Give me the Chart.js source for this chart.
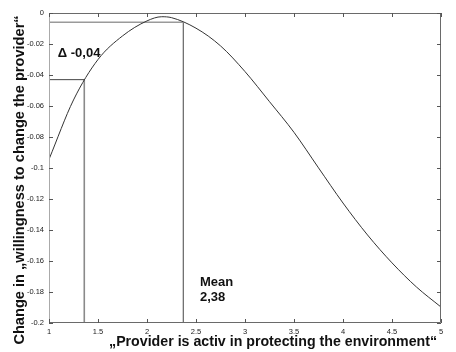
<!DOCTYPE html>
<html>
<head>
<meta charset="utf-8">
<script src="https://cdn.jsdelivr.net/npm/chart.js@4"></script>
<style>
html,body{margin:0;padding:0;background:#fff;}
#wrap{width:456px;height:352px;position:relative;}
</style>
</head>
<body>
<div id="wrap"><canvas id="c" width="456" height="352"></canvas></div>
<script>
// ---- data ----
const xValues = [1, 1.25, 1.5, 1.75, 2, 2.15, 2.25, 2.5, 2.75, 3, 3.25, 3.5, 3.75, 4, 4.25, 4.5, 4.75, 5];
const yValues = [-0.0944, -0.0561, -0.030, -0.0148, -0.0051, -0.0024, -0.003, -0.0098, -0.0212, -0.0378, -0.0572, -0.077, -0.0999, -0.1226, -0.1432, -0.1612, -0.1768, -0.1897];
const markerX = [1.36, 2.37];          // vertical reference lines
const markerY = [-0.043, -0.006];      // corresponding curve levels
const xTickValues = [1, 1.5, 2, 2.5, 3, 3.5, 4, 4.5, 5];
const xTickLabels = ['1', '1.5', '2', '2.5', '3', '3.5', '4', '4.5', '5'];
const yTickValues = [0, -0.02, -0.04, -0.06, -0.08, -0.1, -0.12, -0.14, -0.16, -0.18, -0.2];
const yTickLabels = ['0', '-0.02', '-0.04', '-0.06', '-0.08', '-0.1', '-0.12', '-0.14', '-0.16', '-0.18', '-0.2'];
const xTitle = '\u201EProvider is activ in protecting the environment\u201C';
const yTitle = 'Change in \u201Ewillingness to change the provider\u201C';
const deltaLabel = '\u0394 -0,04';
const meanLabel = ['Mean', '2,38'];

const FONT = '"Liberation Sans", Arial, sans-serif';

const curve = xValues.map((x, i) => ({x: x, y: yValues[i]}));
const yMin = yTickValues[yTickValues.length - 1];
const xMin = xTickValues[0];

const refStyles = [
  {h: '#444', hw: 1, v: '#8a8a8a', vw: 1.6},
  {h: '#9a9a9a', hw: 1.6, v: '#444', vw: 1}
];
const refSets = [];
markerX.forEach((mx, i) => {
  refSets.push({data: [{x: xMin, y: markerY[i]}, {x: mx, y: markerY[i]}], borderColor: refStyles[i].h, borderWidth: refStyles[i].hw, pointRadius: 0, tension: 0});
  refSets.push({data: [{x: mx, y: yMin}, {x: mx, y: markerY[i]}], borderColor: refStyles[i].v, borderWidth: refStyles[i].vw, pointRadius: 0, tension: 0});
});

const decor = {
  id: 'decor',
  afterDraw(chart) {
    const {ctx, chartArea: a, scales: {x, y}} = chart;
    ctx.save();
    // frame
    ctx.strokeStyle = '#6a6a6a';
    ctx.lineWidth = 1;
    ctx.beginPath();
    ctx.moveTo(a.left + 0.5, a.top + 0.5);
    ctx.lineTo(a.right - 0.5, a.top + 0.5);
    ctx.lineTo(a.right - 0.5, a.bottom - 0.5);
    ctx.lineTo(a.left + 0.5, a.bottom - 0.5);
    ctx.stroke();
    ctx.strokeStyle = '#aaa';
    ctx.beginPath();
    ctx.moveTo(a.left + 0.5, a.top + 0.5);
    ctx.lineTo(a.left + 0.5, a.bottom - 0.5);
    ctx.stroke();
    // inward ticks
    ctx.strokeStyle = '#555';
    ctx.beginPath();
    xTickValues.forEach(v => {
      const px = Math.round(x.getPixelForValue(v)) + 0.5;
      ctx.moveTo(px, a.bottom); ctx.lineTo(px, a.bottom - 4);
      ctx.moveTo(px, a.top); ctx.lineTo(px, a.top + 4);
    });
    yTickValues.forEach(v => {
      const py = Math.round(y.getPixelForValue(v)) + 0.5;
      ctx.moveTo(a.left, py); ctx.lineTo(a.left + 4, py);
      ctx.moveTo(a.right, py); ctx.lineTo(a.right - 4, py);
    });
    ctx.stroke();
    // annotations
    ctx.fillStyle = '#111';
    ctx.font = 'bold 13px ' + FONT;
    ctx.textAlign = 'left';
    ctx.textBaseline = 'middle';
    ctx.fillText(deltaLabel, x.getPixelForValue(1.09), y.getPixelForValue(-0.026));
    ctx.fillText(meanLabel[0], x.getPixelForValue(2.54), y.getPixelForValue(-0.1735));
    ctx.fillText(meanLabel[1], x.getPixelForValue(2.54), y.getPixelForValue(-0.1835));
    // axis titles
    ctx.font = 'bold 14.2px ' + FONT;
    ctx.textAlign = 'right';
    ctx.fillText(xTitle, 437, 342);
    ctx.font = 'bold 14.6px ' + FONT;
    ctx.translate(20, 180);
    ctx.rotate(-Math.PI / 2);
    ctx.textAlign = 'center';
    ctx.fillText(yTitle, 0, 0);
    ctx.restore();
  }
};

new Chart(document.getElementById('c'), {
  type: 'line',
  data: {
    datasets: [
      {data: curve, borderColor: '#333', borderWidth: 1, pointRadius: 0, cubicInterpolationMode: 'monotone'}
    ].concat(refSets)
  },
  options: {
    responsive: false,
    animation: false,
    events: [],
    layout: {padding: {top: 13, right: 15, left: 0, bottom: 0}},
    plugins: {legend: {display: false}, tooltip: {enabled: false}},
    scales: {
      x: {
        type: 'linear', min: 1, max: 5,
        grid: {display: false, drawTicks: false}, border: {display: false},
        afterBuildTicks: s => { s.ticks = xTickValues.map(v => ({value: v})); },
        afterFit: s => { s.height = 29; },
        ticks: {
          padding: 4, color: '#222', font: {family: FONT, size: 7.5},
          maxRotation: 0, autoSkip: false,
          callback: (v, i) => xTickLabels[i]
        }
      },
      y: {
        type: 'linear', min: -0.2, max: 0,
        grid: {display: false, drawTicks: false}, border: {display: false},
        afterBuildTicks: s => { s.ticks = yTickValues.slice().reverse().map(v => ({value: v})); },
        afterFit: s => { s.width = 49; },
        ticks: {
          padding: 5, color: '#222', font: {family: FONT, size: 7.5},
          autoSkip: false,
          callback: (v, i, t) => yTickLabels[yTickValues.indexOf(t[i].value)]
        }
      }
    }
  },
  plugins: [decor]
});
</script>
</body>
</html>
